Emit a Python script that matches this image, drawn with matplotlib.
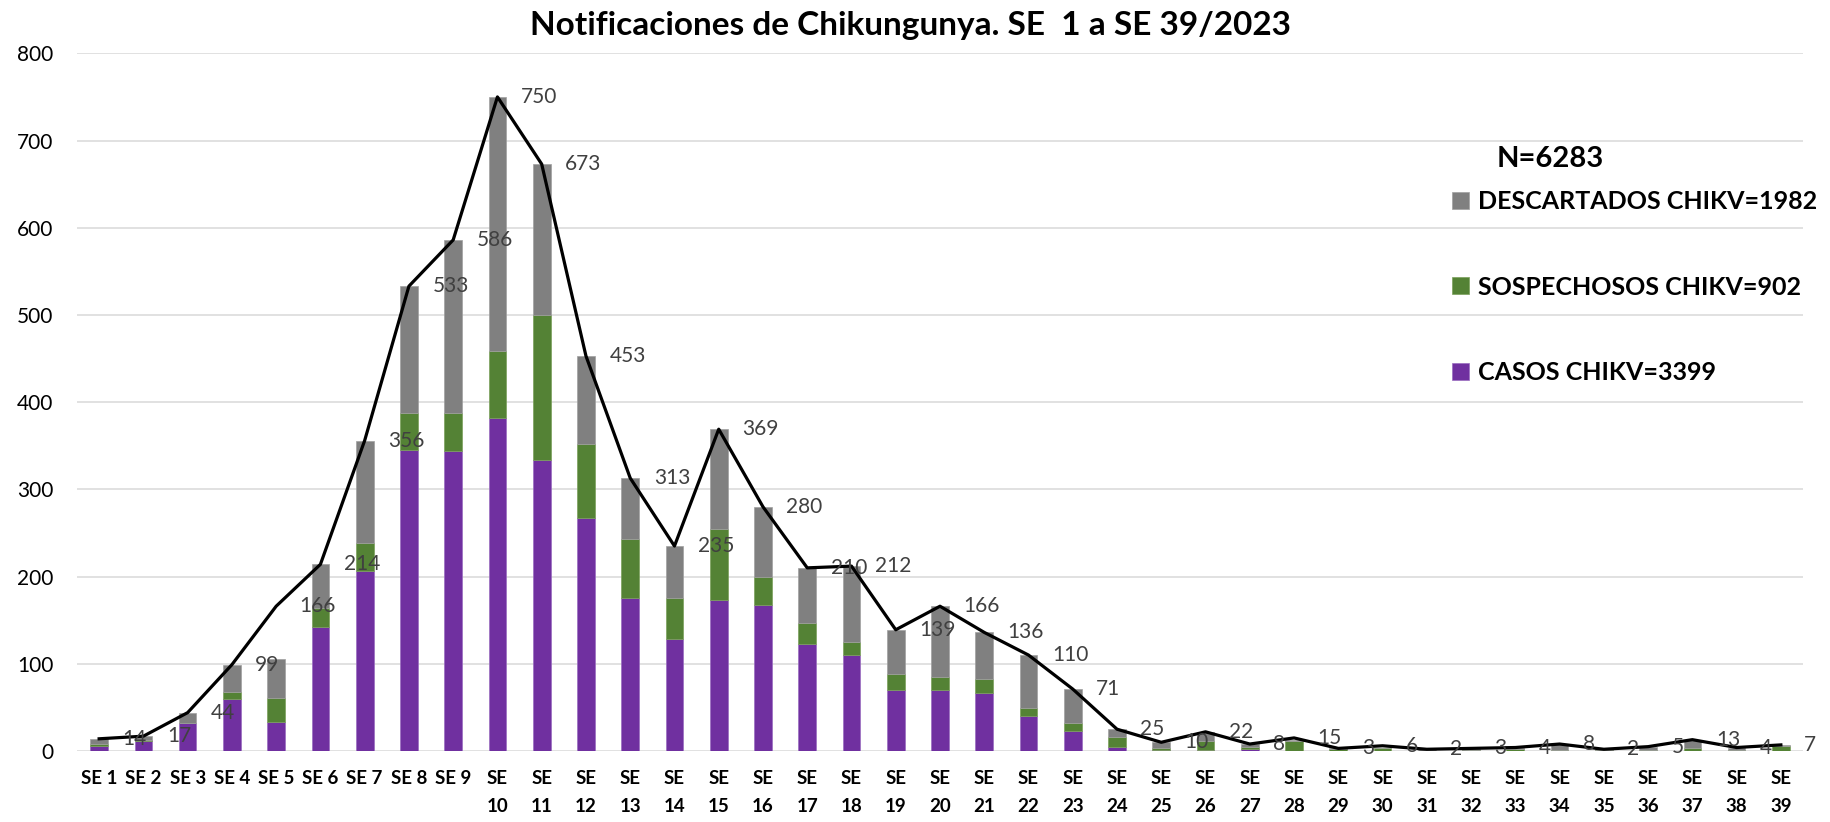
import numpy as np
import matplotlib
matplotlib.use('Agg')
import matplotlib.pyplot as plt

plt.rcParams['font.family'] = ['Lato', 'DejaVu Sans']

semanas = [f'SE {i}' if i < 10 else f'SE\n{i}' for i in range(1, 40)]

casos = [6, 12, 32, 60, 33, 142, 206, 345, 344, 382, 334, 267, 175, 128, 173,
         167, 123, 110, 70, 70, 67, 40, 23, 5, 1, 1, 2, 0, 0, 0,
         0, 0, 0, 0, 0, 0, 0, 0, 0]
sospechosos = [2, 1, 0, 8, 28, 22, 32, 43, 44, 77, 166, 85, 68, 47, 82,
               33, 24, 15, 18, 15, 15, 9, 9, 11, 3, 11, 3, 11, 2, 3,
               0, 1, 2, 1, 1, 1, 3, 1, 6]
descartados = [6, 4, 12, 31, 45, 50, 118, 145, 198, 291, 173, 101, 70, 60, 114,
               80, 63, 87, 51, 81, 54, 61, 39, 9, 6, 10, 3, 2, 1, 1,
               2, 1, 1, 7, 1, 4, 10, 3, 1]
totales = [14, 17, 44, 99, 166, 214, 356, 533, 586, 750, 673, 453, 313, 235, 369,
           280, 210, 212, 139, 166, 136, 110, 71, 25, 10, 22, 8, 15, 3, 6,
           2, 3, 4, 8, 2, 5, 13, 4, 7]

etiquetas = ['CASOS CHIKV=3399', 'SOSPECHOSOS CHIKV=902', 'DESCARTADOS CHIKV=1982']
colores = ['#7030A0', '#548235', '#808080']

x = np.arange(len(semanas))
casos = np.array(casos)
sospechosos = np.array(sospechosos)
descartados = np.array(descartados)

fig = plt.figure(figsize=(18.3, 8.22), dpi=100)
ax = fig.add_axes([77 / 1830, 1 - 751 / 822, (1803 - 77) / 1830, (751 - 53.3) / 822])

ancho = 0.4
b1 = ax.bar(x, casos, ancho, color=colores[0], edgecolor='#9a6cc0', linewidth=0.5, label=etiquetas[0], zorder=2)
b2 = ax.bar(x, sospechosos, ancho, bottom=casos, color=colores[1], edgecolor='#7aa05a',
            linewidth=0.5, label=etiquetas[1], zorder=2)
b3 = ax.bar(x, descartados, ancho, bottom=casos + sospechosos, color=colores[2],
            edgecolor='#a0a0a0', linewidth=0.5, label=etiquetas[2], zorder=2)

ax.plot(x, totales, color='black', linewidth=2.3, zorder=3)
for xi, v in zip(x, totales):
    ax.text(xi + 0.53, v, str(v), ha='left', va='center', fontsize=15, color='#404040', zorder=4)

ax.set_xlim(-0.5, len(semanas) - 0.5)
ax.set_ylim(0, 800)
ax.set_yticks(range(0, 801, 100))
ax.yaxis.grid(True, color='#D9D9D9', linewidth=1.1, zorder=0)
ax.set_axisbelow(True)
for s in ax.spines.values():
    s.set_visible(False)
ax.tick_params(axis='both', length=0)
ax.tick_params(axis='y', labelsize=15, pad=17)
ax.set_xticks(x)
ax.set_xticklabels(semanas, fontsize=13.5, fontweight='bold', linespacing=1.75)
ax.tick_params(axis='x', pad=14)

fig.text(910 / 1830, 1 - 25 / 822, 'Notificaciones de Chikungunya. SE  1 a SE 39/2023',
         ha='center', va='center', fontsize=24, fontweight='bold')
fig.text(1497 / 1830, 1 - 146 / 822, 'N=6283', ha='left', va='top', fontsize=21, fontweight='bold')

leg = fig.legend(handles=[b3, b2, b1], labels=[etiquetas[2], etiquetas[1], etiquetas[0]],
                 loc='upper left', bbox_to_anchor=(1452 / 1830, 1 - 190 / 822),
                 frameon=False, borderpad=0, borderaxespad=0,
                 prop={'size': 18, 'weight': 'bold'},
                 handlelength=0.68, handleheight=0.68, handletextpad=0.35,
                 labelspacing=2.5)

fig.savefig('out.png', dpi=100)
